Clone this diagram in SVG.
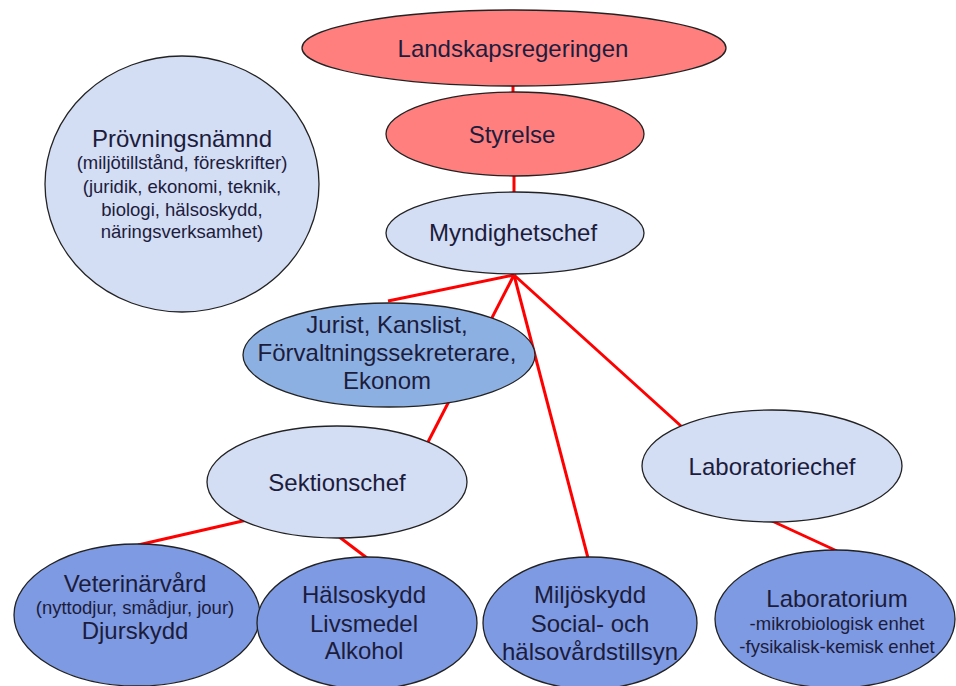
<svg xmlns="http://www.w3.org/2000/svg" width="956" height="686" viewBox="0 0 956 686">
<style>
.n{stroke:#222;stroke-width:1.3}
.red{fill:#FF7F7F}
.lb{fill:#D3DDF4}
.mb{fill:#8DB0E2}
.db{fill:#7E9AE2}
text{font-family:"Liberation Sans",Arial,sans-serif;fill:#1c1c3c;text-anchor:middle}
.t{font-size:24px}
.s{font-size:18.5px}
.c line{stroke:#FF0000;stroke-width:3}
</style>
<rect width="956" height="686" fill="#fff"/>
<g class="c" id="connectors">
<line x1="513" y1="84" x2="513" y2="95"/>
<line x1="514" y1="174" x2="514" y2="195"/>
<line x1="514" y1="275" x2="388" y2="301"/>
<line x1="514" y1="275" x2="428" y2="442"/>
<line x1="514" y1="275" x2="588" y2="558"/>
<line x1="514" y1="275" x2="681" y2="426"/>
<line x1="247" y1="520" x2="138" y2="545"/>
<line x1="338" y1="536" x2="367" y2="558"/>
<line x1="772" y1="521" x2="837" y2="551"/>
</g>
<g id="landskapsregeringen">
<ellipse class="n red" cx="514" cy="48" rx="212" ry="38"/>
<text class="t" x="513" y="57">Landskapsregeringen</text>
</g>
<g id="styrelse">
<ellipse class="n red" cx="515" cy="134" rx="129" ry="42"/>
<text class="t" x="512" y="143">Styrelse</text>
</g>
<g id="myndighetschef">
<ellipse class="n lb" cx="515" cy="233" rx="129" ry="41"/>
<text class="t" x="513" y="241">Myndighetschef</text>
</g>
<g id="provningsnamnd">
<ellipse class="n lb" cx="182" cy="184" rx="137" ry="128"/>
<text class="t" x="182" y="147">Prövningsnämnd</text>
<text class="s" x="182" y="169">(miljötillstånd, föreskrifter)</text>
<text class="s" x="182" y="193">(juridik, ekonomi, teknik,</text>
<text class="s" x="182" y="216">biologi, hälsoskydd,</text>
<text class="s" x="182" y="238">näringsverksamhet)</text>
</g>
<g id="jurist">
<ellipse class="n mb" cx="389" cy="355" rx="146" ry="52"/>
<text class="t" x="387" y="333">Jurist, Kanslist,</text>
<text class="t" x="387" y="361">Förvaltningssekreterare,</text>
<text class="t" x="387" y="389">Ekonom</text>
</g>
<g id="sektionschef">
<ellipse class="n lb" cx="337" cy="482" rx="130" ry="56"/>
<text class="t" x="337" y="491">Sektionschef</text>
</g>
<g id="laboratoriechef">
<ellipse class="n lb" cx="772" cy="466" rx="130" ry="56"/>
<text class="t" x="772" y="475">Laboratoriechef</text>
</g>
<g id="veterinarvard">
<ellipse class="n db" cx="137" cy="615" rx="123" ry="71"/>
<text class="t" x="135" y="592">Veterinärvård</text>
<text class="s" x="135" y="614">(nyttodjur, smådjur, jour)</text>
<text class="t" x="135" y="639">Djurskydd</text>
</g>
<g id="halsoskydd">
<ellipse class="n db" cx="367" cy="623" rx="110" ry="66"/>
<text class="t" x="364" y="603">Hälsoskydd</text>
<text class="t" x="364" y="632">Livsmedel</text>
<text class="t" x="364" y="659">Alkohol</text>
</g>
<g id="miljoskydd">
<ellipse class="n db" cx="590" cy="623" rx="107" ry="66"/>
<text class="t" x="590" y="603">Miljöskydd</text>
<text class="t" x="590" y="632">Social- och</text>
<text class="t" x="590" y="660">hälsovårdstillsyn</text>
</g>
<g id="laboratorium">
<ellipse class="n db" cx="835" cy="619" rx="120" ry="69"/>
<text class="t" x="837" y="607">Laboratorium</text>
<text class="s" x="837" y="630">-mikrobiologisk enhet</text>
<text class="s" x="837" y="653">-fysikalisk-kemisk enhet</text>
</g>
</svg>
